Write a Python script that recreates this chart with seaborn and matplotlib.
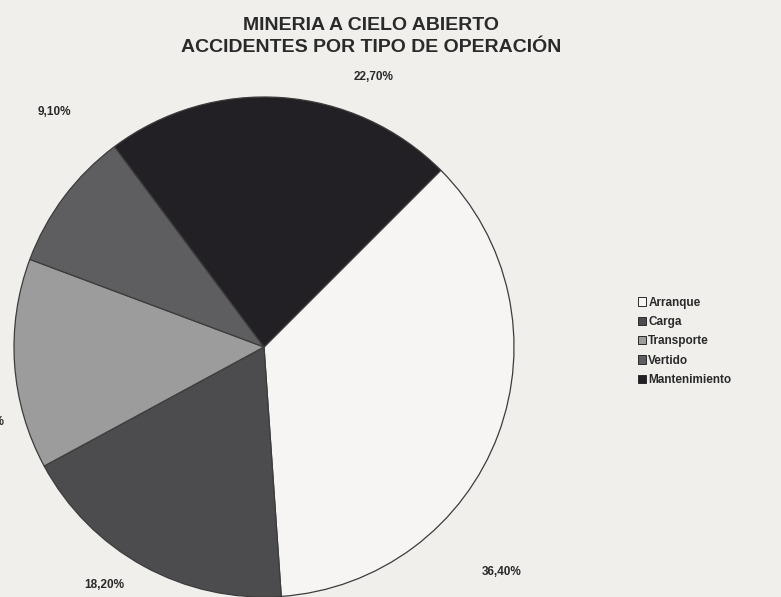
import matplotlib
matplotlib.use("Agg")
import matplotlib.pyplot as plt
import seaborn as sns
from matplotlib.patches import Patch

# Accident share by type of operation (open-pit mining)
operations = ["Arranque", "Carga", "Transporte", "Vertido", "Mantenimiento"]
shares = [36.40, 18.20, 13.60, 9.10, 22.70]
slice_colors = ["#f6f5f3", "#4c4c4e", "#9c9c9c", "#5e5e60", "#222024"]

title_lines = ["MINERIA A CIELO ABIERTO", "ACCIDENTES POR TIPO DE OPERACIÓN"]

# where each percentage label sits, in pie units (centre = 0,0, radius = 1)
label_pos = {
    "Arranque": (0.95, -0.90, "center"),
    "Carga": (-0.64, -0.95, "center"),
    "Transporte": (-1.04, -0.30, "right"),
    "Vertido": (-0.84, 0.94, "center"),
    "Mantenimiento": (0.44, 1.08, "center"),
}

sns.set_theme(style="white")
plt.rcParams["font.family"] = ["Liberation Sans", "DejaVu Sans"]

paper = "#f0efec"
fig = plt.figure(figsize=(7.81, 5.97), dpi=100, facecolor=paper)
ax = fig.add_axes([0, 0, 1, 1])
ax.set_facecolor(paper)

wedges, _ = ax.pie(
    shares,
    colors=slice_colors,
    startangle=45,
    counterclock=False,
    wedgeprops=dict(edgecolor="#3c3c3c", linewidth=0.9),
)
ax.set_aspect("auto")
ax.set_xlim(-1.056, 2.068)
ax.set_ylim(-1.0, 1.388)
ax.axis("off")

for name, val in zip(operations, shares):
    x, y, ha = label_pos[name]
    txt = f"{val:.2f}%".replace(".", ",")
    ax.text(x, y, txt, ha=ha, va="center", fontsize=8.5, fontweight="bold",
            color="#2a2a2a")

fig.text(371 / 781, 1 - 26 / 597, title_lines[0], ha="center", va="center",
         fontsize=14, fontweight="bold", color="#2a2a2a")
fig.text(371 / 781, 1 - 48 / 597, title_lines[1], ha="center", va="center",
         fontsize=14, fontweight="bold", color="#2a2a2a")

handles = [Patch(facecolor=c, edgecolor="#2a2a2a", linewidth=0.7) for c in slice_colors]
leg = fig.legend(
    handles, operations,
    loc="upper left", bbox_to_anchor=(633 / 781, 1 - 292 / 597),
    frameon=False, handlelength=0.7, handleheight=0.7, handletextpad=0.2,
    labelspacing=0.62, borderaxespad=0,
    prop=dict(size=8.5, weight="bold"),
)
for t in leg.get_texts():
    t.set_color("#2a2a2a")

fig.savefig("out.png", dpi=100, facecolor=paper)
